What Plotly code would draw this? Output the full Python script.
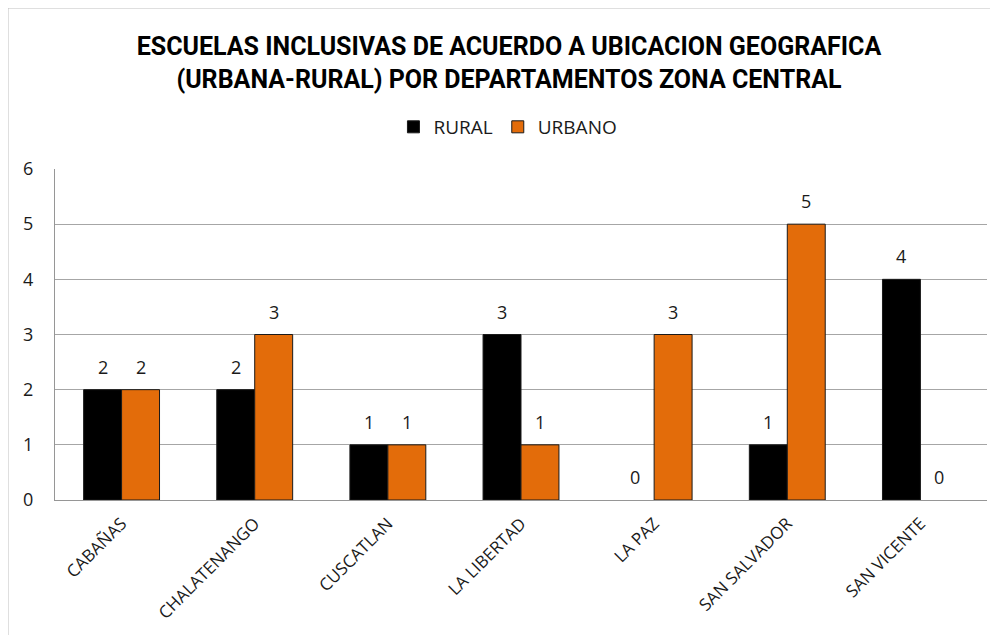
import plotly.graph_objects as go

categories = ["CABAÑAS", "CHALATENANGO", "CUSCATLAN", "LA LIBERTAD", "LA PAZ", "SAN SALVADOR", "SAN VICENTE"]
rural = [2, 2, 1, 3, 0, 1, 4]
urbano = [2, 3, 1, 1, 3, 5, 0]
title_lines = ["ESCUELAS INCLUSIVAS DE ACUERDO A UBICACION GEOGRAFICA",
               "(URBANA-RURAL) POR DEPARTAMENTOS ZONA CENTRAL"]

FONT = "Open Sans, sans-serif"
TITLE_FONT = "Roboto, Open Sans, sans-serif"

def outline(vals):
    return [1 if v > 0 else 0 for v in vals]

fig = go.Figure()
fig.add_trace(go.Bar(name="RURAL", x=categories, y=rural,
                     marker=dict(color="#000000", line=dict(color="#1a1a1a", width=outline(rural)))))
fig.add_trace(go.Bar(name="URBANO", x=categories, y=urbano,
                     marker=dict(color="#E36C0A", line=dict(color="#1a1a1a", width=outline(urbano)))))

# value labels placed above each bar (offset left/right for the grouped bars)
annotations = []
for series, shift in ((rural, -19), (urbano, 19)):
    for cat, val in zip(categories, series):
        annotations.append(dict(x=cat, y=val, xref="x", yref="y", text=str(val), showarrow=False,
                                xshift=shift, yshift=23, yanchor="middle", xanchor="center",
                                font=dict(size=18, color="#1a1a1a", family=FONT)))

fig.update_layout(
    width=990, height=627,
    paper_bgcolor="white", plot_bgcolor="white",
    margin=dict(l=47, r=11, t=161, b=135),
    barmode="group", bargap=0.43, bargroupgap=0,
    font=dict(family=FONT, color="#1a1a1a"),
    title=dict(text="<br>".join(title_lines), x=0.506, xanchor="center", y=0.925, yanchor="middle",
               font=dict(size=25, family=TITLE_FONT, color="#000000", weight="bold")),
    legend=dict(orientation="h", x=0.486, xanchor="center", y=1.127, yanchor="middle",
                font=dict(size=19, family=FONT), itemwidth=30, traceorder="normal"),
    xaxis=dict(tickangle=-45, tickfont=dict(size=17, family=FONT), showline=True, linecolor="#969696",
               linewidth=1, ticks="", ticklabelstandoff=6),
    yaxis=dict(range=[0, 6], dtick=1, showgrid=True, gridcolor="#a6a6a6", gridwidth=1, showline=True,
               linecolor="#969696", mirror=False, tickfont=dict(size=18, family=FONT), zeroline=False,
               ticklabelstandoff=17),
    annotations=annotations,
    shapes=[
        dict(type="line", xref="paper", yref="paper", x0=-47/932, x1=1.02, y0=1 + 161/331, y1=1 + 161/331,
             line=dict(color="#c0c0c0", width=1)),
        dict(type="line", xref="paper", yref="paper", x0=-47/932, x1=-47/932, y0=1 + 161/331, y1=-0.5,
             line=dict(color="#c0c0c0", width=1)),
    ],
)

fig.write_html("out.html")
